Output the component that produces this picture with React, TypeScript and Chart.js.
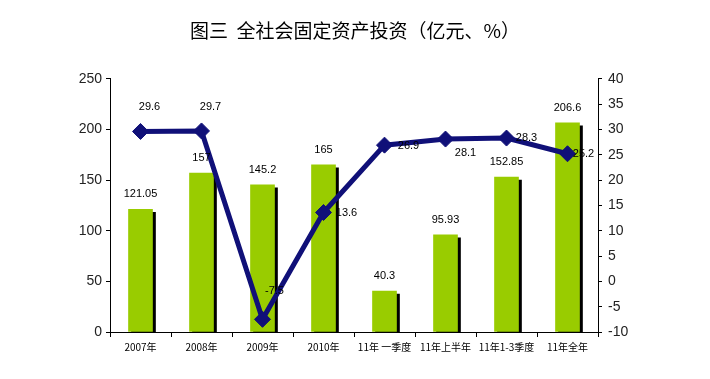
import React, { useEffect, useRef } from "react";
import { Chart, registerables } from "chart.js";

Chart.register(...registerables);

const categories = ["2007年", "2008年", "2009年", "2010年", "11年 一季度", "11年上半年", "11年1-3季度", "11年全年"];
const investment = [121.05, 157, 145.2, 165, 40.3, 95.93, 152.85, 206.6];
const growth = [29.6, 29.7, -7.5, 13.6, 26.9, 28.1, 28.3, 25.2];
const leftTicks = { min: 0, max: 250, step: 50 };
const rightTicks = { min: -10, max: 40, step: 5 };

// label offsets for line points (dx, dy) — presentation only
const lineLabelOffsets: [number, number][] = [
  [9, -24], [9, -24], [12, -28], [23, 0], [24, 1], [20, 14], [20, 0], [16, 0],
];

const shadowPlugin = {
  id: "barShadow",
  beforeDatasetDraw(chart: any, args: any) {
    if (args.index !== 0) return;
    const ctx = chart.ctx;
    ctx.save();
    ctx.shadowColor = "#000000";
    ctx.shadowOffsetX = 3;
    ctx.shadowOffsetY = 3;
    ctx.shadowBlur = 0;
  },
  afterDatasetDraw(chart: any, args: any) {
    if (args.index !== 0) return;
    chart.ctx.restore();
  },
};

const labelPlugin = {
  id: "valueLabels",
  afterDatasetsDraw(chart: any) {
    const ctx = chart.ctx;
    ctx.save();
    ctx.font = "11px 'Liberation Sans', Arial, sans-serif";
    ctx.fillStyle = "#000000";
    ctx.textAlign = "center";
    ctx.textBaseline = "middle";
    const barMeta = chart.getDatasetMeta(0);
    barMeta.data.forEach((el: any, i: number) => {
      ctx.fillText(String(investment[i]), el.x, el.y - 15);
    });
    const lineMeta = chart.getDatasetMeta(1);
    lineMeta.data.forEach((el: any, i: number) => {
      const [dx, dy] = lineLabelOffsets[i];
      ctx.fillText(String(growth[i]), el.x + dx, el.y + dy);
    });
    ctx.restore();
  },
};

export default function App() {
  const ref = useRef<HTMLCanvasElement | null>(null);
  useEffect(() => {
    if (!ref.current) return;
    const tickFont = { family: "'Liberation Sans', Arial, sans-serif", size: 14 };
    const chart = new Chart(ref.current, {
      type: "bar",
      data: {
        labels: categories,
        datasets: [
          {
            type: "bar",
            data: investment,
            backgroundColor: "#99CC00",
            barThickness: 24,
            yAxisID: "y",
            order: 2,
          },
          {
            type: "line",
            data: growth,
            borderColor: "#101078",
            borderWidth: 5,
            pointStyle: "rectRot",
            pointRadius: 8,
            pointBackgroundColor: "#101078",
            pointBorderColor: "#101078",
            pointBorderWidth: 1,
            yAxisID: "y1",
            order: 1,
          },
        ] as any,
      },
      options: {
        animation: false,
        responsive: false,
        layout: { padding: 0 },
        plugins: {
          legend: { display: false },
          tooltip: { enabled: false },
          title: {
            display: true,
            text: "图三  全社会固定资产投资（亿元、%）",
            font: { family: "'Noto Sans CJK SC', sans-serif", size: 19, weight: "normal" },
            color: "#000000",
            padding: { top: 19, bottom: 37 },
          },
        },
        scales: {
          x: {
            grid: { offset: true, drawOnChartArea: false, tickLength: 5, color: "#000000" },
            border: { color: "#000000" },
            ticks: {
              font: { family: "'Noto Sans CJK SC', sans-serif", size: 10 },
              color: "#000000",
              maxRotation: 0,
              autoSkip: false,
              padding: 4,
            },
            afterFit(scale: any) {
              scale.height = 47;
            },
          },
          y: {
            position: "left",
            min: leftTicks.min,
            max: leftTicks.max,
            ticks: { stepSize: leftTicks.step, font: tickFont, color: "#222222", padding: 4 },
            grid: { drawOnChartArea: false, tickLength: 4, color: "#000000" },
            border: { color: "#000000" },
            afterFit(scale: any) {
              scale.width = 110;
            },
          },
          y1: {
            position: "right",
            min: rightTicks.min,
            max: rightTicks.max,
            ticks: { stepSize: rightTicks.step, font: tickFont, color: "#222222", padding: 6 },
            grid: { drawOnChartArea: false, tickLength: 4, color: "#000000" },
            border: { color: "#000000" },
            afterFit(scale: any) {
              scale.width = 112;
            },
          },
        },
      } as any,
      plugins: [shadowPlugin, labelPlugin],
    });
    return () => chart.destroy();
  }, []);
  return (
    <div style={{ position: "absolute", left: 0, top: 0, width: 710, height: 379, background: "#ffffff" }}>
      <canvas ref={ref} width={710} height={379} />
    </div>
  );
}
